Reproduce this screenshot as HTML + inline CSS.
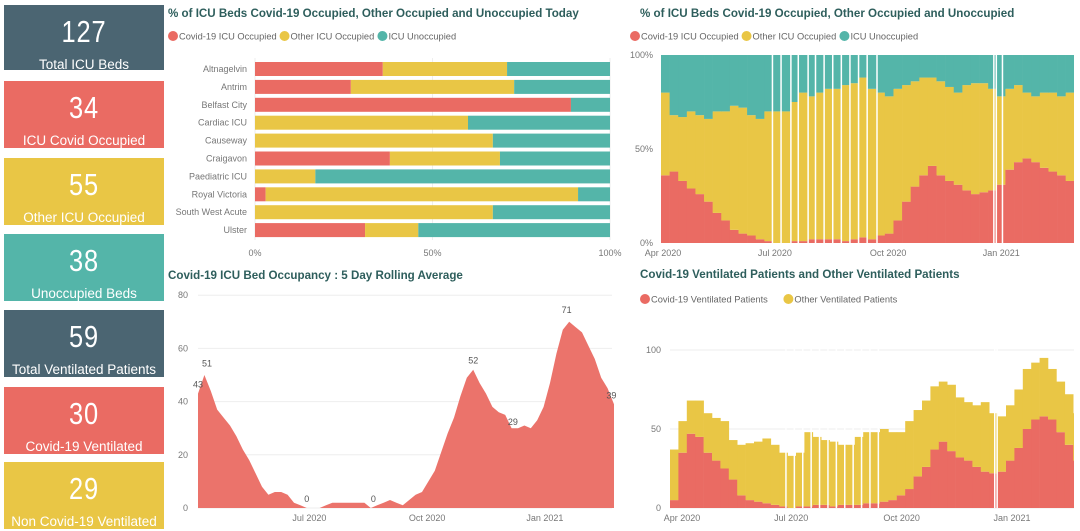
<!DOCTYPE html>
<html><head><meta charset="utf-8">
<style>
body{margin:0;width:1080px;height:531px;overflow:hidden;background:#fff;font-family:"Liberation Sans",sans-serif;}
.card{position:absolute;left:4px;width:160px;color:#fff;text-align:center;}
.card .num{font-size:31px;line-height:30px;margin-top:12px;transform:scaleX(0.82);letter-spacing:1px}
.card .lab{font-size:13.5px;margin-top:10px;white-space:nowrap}
svg{position:absolute;left:0;top:0}
</style></head><body>
<div class="card" style="top:5px;height:65px;background:#4B6572"><div class="num">127</div><div class="lab">Total ICU Beds</div></div>
<div class="card" style="top:81px;height:67px;background:#EA6B63"><div class="num">34</div><div class="lab">ICU Covid Occupied</div></div>
<div class="card" style="top:158px;height:67px;background:#E9C645"><div class="num">55</div><div class="lab">Other ICU Occupied</div></div>
<div class="card" style="top:234px;height:67px;background:#54B5A9"><div class="num">38</div><div class="lab">Unoccupied Beds</div></div>
<div class="card" style="top:310px;height:67px;background:#4B6572"><div class="num">59</div><div class="lab">Total Ventilated Patients</div></div>
<div class="card" style="top:387px;height:67px;background:#EA6B63"><div class="num">30</div><div class="lab">Covid-19 Ventilated</div></div>
<div class="card" style="top:462px;height:67px;background:#E9C645"><div class="num">29</div><div class="lab">Non Covid-19 Ventilated</div></div>
<svg id="s" width="1080" height="531" xmlns="http://www.w3.org/2000/svg" font-family="Liberation Sans, sans-serif"></svg>
<script>
// ---- hospital bar chart data ----
const hospitals=["Altnagelvin","Antrim","Belfast City","Cardiac ICU","Causeway","Craigavon","Paediatric ICU","Royal Victoria","South West Acute","Ulster"];
const hospCovid=[36,27,89,0,0,38,0,3,0,31];
const hospOther=[35,46,0,60,67,31,17,88,67,15];
// ---- rolling average ----
const rollDays=[0,5,10,15,20,25,30,35,40,45,50,55,60,65,70,75,80,85,90,95,100,105,110,115,120,125,130,135,140,145,150,155,160,165,170,175,180,185,190,195,200,205,210,215,220,225,230,235,240,245,250,255,260,265,270,275,280,285,290,295,300,305,310,315,320,325];
const rollVals=[43,50,44,37,34,31,27,22,18,13,8,5,6,6,5,2,1,0,0,0,1,2,2,2,2,2,2,0,1,2,3,2,1,3,5,6,10,14,21,28,34,42,49,52,47,43,38,36,35,30,30,31,30,33,38,47,58,67,70,68,66,61,56,49,45,39];
const rollLabelDays=[7,0,85,137,215,246,288,323];
const rollLabelVals=[51,43,0,0,52,29,71,39];
const rollTicks=[0,20,40,60,80];
// ---- % stacked daily (weekly samples) ----
const pctCovid=[36,38,33,29,26,22,16,12,7,5,4,2,1,0,0,1,1,2,2,2,2,1,2,3,2,4,5,12,22,30,36,41,36,33,31,28,26,27,28,31,39,43,45,43,40,38,36,33,27];
const pctOther=[44,30,34,41,42,44,54,58,66,67,64,64,69,70,70,74,79,76,78,80,80,83,83,85,80,76,73,70,62,56,52,47,50,50,49,56,59,58,54,47,43,41,35,35,40,42,42,47,45];
const pctMissingDays=[90,97,105,111,119,125,132,139,146,153,160,167,175,270,272,277];
const pctTicks=["0%","50%","100%"];
// ---- ventilated ----
const ventCovid=[5,35,47,45,35,30,25,18,8,5,4,3,2,1,0,1,1,2,2,1,2,2,2,3,3,4,5,8,12,20,26,37,42,36,32,30,26,23,22,23,30,38,50,56,58,56,48,40,30];
const ventOther=[32,20,21,23,25,27,30,25,32,36,38,41,38,34,33,34,47,43,41,41,38,38,43,45,45,46,43,40,43,42,42,40,38,42,38,37,39,44,38,35,35,37,38,36,37,32,32,32,30];
const ventMissingDays=[96,103,110,117,124,131,138,145,152,159,166,173,270,272];
const ventTicks=[0,50,100];
const monthLabels=["Apr 2020","Jul 2020","Oct 2020","Jan 2021"];

const S=document.getElementById('s');const NS="http://www.w3.org/2000/svg";
function mk(t,a,txt){const e=document.createElementNS(NS,t);for(const k in a)e.setAttribute(k,a[k]);if(txt!==undefined)e.textContent=txt;S.appendChild(e);return e;}
const RED="#EA6B63",YEL="#E9C645",TEAL="#54B5A9",TC="#2E5E5C",GR="#777";

function title(x,y,t,n){const e=mk('text',{x:x,y:y,'font-size':11.6,'font-weight':'bold',fill:TC},t);

}
function legend(x,y,items,cols,n){let cx=x;items.forEach((it,i)=>{const c=mk('circle',{cx:cx+5,cy:y,r:5,fill:cols[i]});


const t=mk('text',{x:cx+11,y:y+3.5,'font-size':9.3,fill:'#666'},it);


cx+=11+it.length*4.55+5;});}

// ===== Chart 1: hospital bars =====
title(168,17,"% of ICU Beds Covid-19 Occupied, Other Occupied and Unoccupied Today","hospital-chart-title");
legend(168,36,["Covid-19 ICU Occupied","Other ICU Occupied","ICU Unoccupied"],[RED,YEL,TEAL],"hospital-legend");
const hx=p=>255+p*3.55, hy=i=>69+i*17.9;
[0,50,100].forEach(p=>{const g=mk('line',{x1:hx(p),x2:hx(p),y1:58,y2:240,stroke:'#eee'});


const t=mk('text',{x:hx(p),y:256,'font-size':9,fill:GR,'text-anchor':'middle'},p+'%');

});
hospitals.forEach((h,i)=>{const y=hy(i)-7;const c=hospCovid[i],o=hospOther[i];
const t=mk('text',{x:247,y:hy(i)+3,'font-size':9,fill:GR,'text-anchor':'end'},h);


const a=mk('rect',{x:hx(0),y:y,width:hx(c)-hx(0),height:14,fill:RED});


const b=mk('rect',{x:hx(c),y:y,width:hx(c+o)-hx(c),height:14,fill:YEL});


const d=mk('rect',{x:hx(c+o),y:y,width:hx(100)-hx(c+o),height:14,fill:TEAL});

});

// ===== Chart 2: rolling avg =====
title(168,279,"Covid-19 ICU Bed Occupancy : 5 Day Rolling Average","rolling-chart-title");
const ax=d=>198+d*1.28, ay=v=>508-v*2.66;
rollTicks.forEach(v=>{const g=mk('line',{x1:198,x2:612,y1:ay(v),y2:ay(v),stroke:'#eee'});


const t=mk('text',{x:188,y:ay(v)+3,'font-size':9,fill:GR,'text-anchor':'end'},v);

});
let dp="M"+ax(rollDays[0])+","+ay(0);
rollDays.forEach((d,i)=>{dp+=" L"+ax(d).toFixed(1)+","+ay(rollVals[i]).toFixed(1);});
dp+=" L"+ax(rollDays[rollDays.length-1])+","+ay(0)+"Z";
const area=mk('path',{d:dp,fill:RED,opacity:0.95});


rollLabelDays.forEach((d,i)=>{const t=mk('text',{x:ax(d),y:ay(rollLabelVals[i])-6,'font-size':9,fill:'#555','text-anchor':'middle'},rollLabelVals[i]);

});
[87,179,271].forEach((d,i)=>{const t=mk('text',{x:ax(d),y:521,'font-size':9,fill:GR,'text-anchor':'middle'},monthLabels[i+1]);

});

// ===== Chart 3: % stacked =====
title(640,17,"% of ICU Beds Covid-19 Occupied, Other Occupied and Unoccupied","pct-chart-title");
legend(630,36,["Covid-19 ICU Occupied","Other ICU Occupied","ICU Unoccupied"],[RED,YEL,TEAL],"pct-legend");
const PEND=1074;
const px=d=>661+d*1.23, py=p=>243-p*1.88;
[0,50,100].forEach((p,i)=>{const t=mk('text',{x:653,y:py(p)+3,'font-size':9,fill:GR,'text-anchor':'end'},pctTicks[i]);

});
pctCovid.forEach((c,i)=>{const d=i*7;const x=px(d);const w=Math.max(0,Math.min(px(d+7)+0.3,PEND)-x);const o=pctOther[i];
const a=mk('rect',{x:x,y:py(c),width:w,height:py(0)-py(c),fill:RED});


const b=mk('rect',{x:x,y:py(c+o),width:w,height:py(c)-py(c+o),fill:YEL});


const u=mk('rect',{x:x,y:py(100),width:w,height:py(c+o)-py(100),fill:TEAL});

});
pctMissingDays.forEach(d=>{const g=mk('rect',{x:px(d),y:py(100),width:1.5,height:py(0)-py(100),fill:'#fff'});

});
[0,91,183,275].forEach((d,i)=>{const t=mk('text',{x:px(d)+2,y:256,'font-size':9,fill:GR,'text-anchor':'middle'},monthLabels[i]);

});

// ===== Chart 4: ventilated =====
title(640,278,"Covid-19 Ventilated Patients and Other Ventilated Patients","vent-chart-title");
legend(640,299,["Covid-19 Ventilated Patients","Other Ventilated Patients"],[RED,YEL],"vent-legend");
const vx=d=>670+d*1.2, vy=v=>508-v*1.58;
ventTicks.forEach(v=>{const g=mk('line',{x1:670,x2:1074,y1:vy(v),y2:vy(v),stroke:'#eee'});


const t=mk('text',{x:661,y:vy(v)+3,'font-size':9,fill:GR,'text-anchor':'end'},v);

});
ventCovid.forEach((c,i)=>{const d=i*7;const x=vx(d);const w=Math.max(0,Math.min(vx(d+7)+0.3,PEND)-x);const o=ventOther[i];
const a=mk('rect',{x:x,y:vy(c),width:w,height:vy(0)-vy(c),fill:RED});


const b=mk('rect',{x:x,y:vy(c+o),width:w,height:vy(c)-vy(c+o),fill:YEL});

});
ventMissingDays.forEach(d=>{const g=mk('rect',{x:vx(d),y:vy(110),width:1.5,height:vy(0)-vy(110),fill:'#fff'});

});
[10,101,193,285].forEach((d,i)=>{const t=mk('text',{x:vx(d),y:521,'font-size':9,fill:GR,'text-anchor':'middle'},monthLabels[i]);

});
</script>
</body></html>
